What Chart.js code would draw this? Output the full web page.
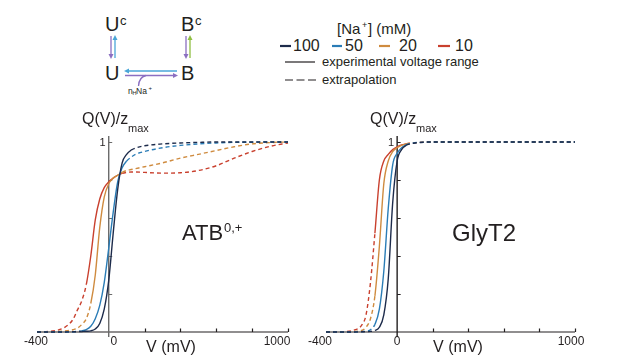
<!DOCTYPE html>
<html>
<head>
<meta charset="utf-8">
<script src="https://cdn.jsdelivr.net/npm/chart.js@4/dist/chart.umd.min.js"></script>
<style>
  body { margin: 0; background: #fff; }
  #page { position: relative; width: 632px; height: 358px; overflow: hidden; font-family: "Liberation Sans", Arial, sans-serif; color: #231f20; }
  #page canvas { position: absolute; }
  .t { position: absolute; white-space: nowrap; }
  svg { position: absolute; left: 0; top: 0; }
</style>
</head>
<body>
<div id="page">
  <svg width="632" height="110" id="deco"></svg>
  <canvas id="atb-chart" width="300" height="258" style="left:0;top:100px"></canvas>
  <canvas id="glyt2-chart" width="332" height="258" style="left:300px;top:100px"></canvas>
</div>
<script>
// ------------------------------ Data ------------------------------ //

// membrane voltage (mV), shared by every curve
const voltage = [-400, -350, -300, -250, -200, -175, -150, -125, -100, -75, -50, -25, 0, 25, 50, 75, 100, 125, 150, 200, 300, 400, 500, 600, 700, 800, 900, 1000];

// Na+ concentrations (mM)
const sodium = [100, 50, 20, 10];

// ATB0,+  Q(V)/zmax
const atb100 = [0, 0, 0, 0, 0.001, 0.002, 0.003, 0.004, 0.006, 0.016, 0.045, 0.12, 0.27, 0.52, 0.75, 0.89, 0.935, 0.957, 0.968, 0.98, 0.99, 0.995, 0.998, 1, 1, 1, 1, 1];
const atb50 = [0, 0, 0, 0, 0.001, 0.003, 0.006, 0.013, 0.03, 0.07, 0.14, 0.26, 0.44, 0.63, 0.79, 0.865, 0.9, 0.92, 0.935, 0.95, 0.97, 0.982, 0.99, 0.995, 0.998, 0.999, 1, 1];
const atb20 = [0, 0, 0.002, 0.005, 0.012, 0.02, 0.04, 0.07, 0.15, 0.3, 0.55, 0.71, 0.78, 0.81, 0.825, 0.84, 0.85, 0.855, 0.86, 0.87, 0.89, 0.915, 0.935, 0.955, 0.975, 0.99, 0.997, 1];
const atb10 = [0, 0.002, 0.007, 0.022, 0.065, 0.115, 0.165, 0.25, 0.4, 0.59, 0.7, 0.76, 0.79, 0.81, 0.825, 0.835, 0.84, 0.842, 0.842, 0.84, 0.836, 0.838, 0.85, 0.875, 0.915, 0.95, 0.977, 0.995];

// GlyT2  Q(V)/zmax
const gly100 = [0, 0, 0, 0, 0.001, 0.002, 0.003, 0.008, 0.025, 0.09, 0.28, 0.68, 0.9, 0.96, 0.982, 0.99, 0.995, 0.997, 0.999, 1, 1, 1, 1, 1, 1, 1, 1, 1];
const gly50 = [0, 0, 0, 0, 0.002, 0.004, 0.012, 0.04, 0.12, 0.32, 0.65, 0.88, 0.94, 0.97, 0.985, 0.992, 0.996, 0.998, 0.999, 1, 1, 1, 1, 1, 1, 1, 1, 1];
const gly20 = [0, 0, 0, 0.002, 0.008, 0.025, 0.07, 0.19, 0.45, 0.78, 0.9, 0.95, 0.97, 0.982, 0.99, 0.994, 0.996, 0.998, 0.999, 1, 1, 1, 1, 1, 1, 1, 1, 1];
const gly10 = [0, 0, 0.002, 0.008, 0.035, 0.09, 0.26, 0.52, 0.8, 0.9, 0.935, 0.96, 0.975, 0.985, 0.99, 0.994, 0.996, 0.998, 0.999, 1, 1, 1, 1, 1, 1, 1, 1, 1];

// experimental voltage range (solid), outside is extrapolation (dashed)
const atbLow = [-150, -150, -100, -125];
const atbHigh = [125, 100, 75, 75];
const glyLow = [-125, -125, -125, -125];
const glyHigh = [50, 50, 50, 50];

// axis ticks
const xTickMarks = [200, 400, 600, 800, 1000];
const xTickLabels = [-400, 0, 1000];
const yTickMarks = [0.2, 0.4, 0.6, 0.8, 1];
const yTickLabels = [1];

const colors = ['#1d2b4b', '#2a7cb6', '#cf8b3f', '#c9402e'];
const FONT = '"Liberation Sans", Arial, sans-serif';

// ------------------------------ Text helper ------------------------------ //

const page = document.getElementById('page');

// place html so that its baseline sits at y = base
const addText = (html, x, base, size, align) => {
    const d = document.createElement('div');
    d.className = 't';
    d.innerHTML = html;
    d.style.fontSize = size + 'px';
    d.style.lineHeight = size + 'px';
    d.style.top = (base - 0.8465 * size) + 'px';
    if (align === 'center') {
        d.style.left = (x - 200) + 'px';
        d.style.width = '400px';
        d.style.textAlign = 'center';
    } else {
        d.style.left = x + 'px';
    }
    page.appendChild(d);
};

// ------------------------------ Axes plugin ------------------------------ //

const axesPlugin = {
    id: 'panelAxes',
    beforeDatasetsDraw(chart, args, opts) {
        const { ctx, scales: { x, y } } = chart;
        const x0 = x.getPixelForValue(0);
        const yBottom = y.getPixelForValue(0);
        ctx.save();
        // x axis
        ctx.strokeStyle = '#231f20';
        ctx.lineWidth = 1.2;
        ctx.beginPath();
        ctx.moveTo(x.getPixelForValue(-400), yBottom);
        ctx.lineTo(x.getPixelForValue(1000), yBottom);
        xTickMarks.forEach(v => {
            const px = Math.round(x.getPixelForValue(v)) + 0.5;
            ctx.moveTo(px, yBottom);
            ctx.lineTo(px, yBottom - 3.5);
        });
        ctx.stroke();
        // y axis through V = 0
        ctx.strokeStyle = opts.yColor;
        ctx.lineWidth = 1.4;
        ctx.beginPath();
        ctx.moveTo(x0, yBottom + 5);
        ctx.lineTo(x0, y.getPixelForValue(1) - 6);
        ctx.stroke();
        ctx.lineWidth = 1;
        ctx.beginPath();
        yTickMarks.forEach(v => {
            const py = Math.round(y.getPixelForValue(v)) + 0.5;
            ctx.moveTo(x0, py);
            ctx.lineTo(x0 + 3.5, py);
        });
        ctx.stroke();
        // tick labels (small nudges as in the original figure)
        ctx.fillStyle = '#231f20';
        ctx.font = '12px ' + FONT;
        ctx.textAlign = 'center';
        ctx.textBaseline = 'alphabetic';
        xTickLabels.forEach((v, i) => {
            ctx.fillText(String(v), x.getPixelForValue(v) + opts.labelShift[i], yBottom + 13);
        });
        ctx.font = '11px ' + FONT;
        ctx.textAlign = 'right';
        yTickLabels.forEach(v => {
            ctx.fillText(String(v), x0 - 3, y.getPixelForValue(v) + 4);
        });
        ctx.restore();
    }
};

// ------------------------------ Charts ------------------------------ //

const buildDatasets = (series, low, high) => series.map((values, i) => ({
    label: sodium[i] + ' mM',
    data: voltage.map((v, j) => ({ x: v, y: values[j] })),
    borderColor: colors[i],
    borderWidth: 1.4,
    pointRadius: 0,
    fill: false,
    cubicInterpolationMode: 'monotone',
    clip: 4,
    segment: {
        borderDash: ctx => (ctx.p0.parsed.x >= low[i] && ctx.p1.parsed.x <= high[i]) ? undefined : [4, 3]
    }
}));

const makeChart = (canvasId, series, low, high, padding, yColor, labelShift) => new Chart(document.getElementById(canvasId), {
    type: 'line',
    data: { datasets: buildDatasets(series, low, high) },
    options: {
        responsive: false,
        animation: false,
        events: [],
        layout: { padding: padding },
        scales: {
            x: { type: 'linear', min: -400, max: 1000, display: false },
            y: { type: 'linear', min: 0, max: 1, display: false }
        },
        plugins: {
            legend: { display: false },
            tooltip: { enabled: false },
            panelAxes: { yColor: yColor, labelShift: labelShift }
        }
    },
    plugins: [axesPlugin]
});

const atbChart = makeChart('atb-chart', [atb100, atb50, atb20, atb10], atbLow, atbHigh,
    { left: 37, right: 12, top: 42, bottom: 26 }, '#6b6b6b', [-1, 5, -11]);
const glyChart = makeChart('glyt2-chart', [gly100, gly50, gly20, gly10], glyLow, glyHigh,
    { left: 26, right: 57, top: 42, bottom: 26 }, '#231f20', [-6, 0, -4]);

// ------------------------------ Labels ------------------------------ //

// axis titles
addText('Q(V)/z', 82, 125, 16);
addText('max', 128, 132, 11);
addText('Q(V)/z', 370, 125, 16);
addText('max', 416, 132, 11);
addText('V (mV)', 171, 353, 16, 'center');
addText('V (mV)', 458, 353, 16, 'center');

// panel names
addText('ATB', 182, 241, 22);
addText('0,+', 224, 232, 13);
addText('GlyT2', 452, 241, 24);

// kinetic scheme
addText('U', 105, 31, 20);
addText('c', 120, 25, 13);
addText('B', 181, 31, 20);
addText('c', 195, 25, 13);
addText('U', 105, 80, 20);
addText('B', 181, 80, 20);
addText('n', 128, 94, 8.5);
addText('H', 132.5, 96, 5.5);
addText('Na', 136, 94, 8.5);
addText('+', 148.5, 90, 6);

// legend
addText('[Na', 337, 34, 15);
addText('+', 362, 29, 9);
addText('] (mM)', 368, 34, 15);
addText('100', 293, 52, 16);
addText('50', 345, 52, 16);
addText('20', 399, 52, 16);
addText('10', 455, 52, 16);
addText('experimental voltage range', 322, 66, 13);
addText('extrapolation', 322, 84, 13);

// arrows and legend swatches
const purple = '#8b6fc1';
const lightBlue = '#4aa6d8';
const green = '#8fbf42';
document.getElementById('deco').innerHTML = `
  <g stroke-width="1.3" fill="none">
    <line x1="111" y1="36" x2="111" y2="55" stroke="${purple}"/>
    <line x1="115" y1="58" x2="115" y2="39" stroke="${lightBlue}"/>
    <line x1="186" y1="36" x2="186" y2="55" stroke="${purple}"/>
    <line x1="190" y1="58" x2="190" y2="39" stroke="${green}"/>
    <line x1="177" y1="71" x2="128" y2="71" stroke="${lightBlue}"/>
    <line x1="125" y1="75.5" x2="174" y2="75.5" stroke="${purple}"/>
    <path d="M146 75.5 Q139 77 138.5 86" stroke="${purple}"/>
  </g>
  <polygon points="108.5,54 113.5,54 111,59" fill="${purple}"/>
  <polygon points="112.5,40 117.5,40 115,35" fill="${lightBlue}"/>
  <polygon points="183.5,54 188.5,54 186,59" fill="${purple}"/>
  <polygon points="187.5,40 192.5,40 190,35" fill="${green}"/>
  <polygon points="129,68.5 129,73.5 124,71" fill="${lightBlue}"/>
  <polygon points="173,73 173,78 178,75.5" fill="${purple}"/>
  <g stroke-width="2.2">
    <line x1="280" y1="46" x2="291" y2="46" stroke="${colors[0]}"/>
    <line x1="332" y1="46" x2="342" y2="46" stroke="${colors[1]}"/>
    <line x1="379" y1="46" x2="390" y2="46" stroke="${colors[2]}"/>
    <line x1="438" y1="46" x2="450" y2="46" stroke="${colors[3]}"/>
  </g>
  <line x1="285" y1="62" x2="315" y2="62" stroke="#231f20" stroke-width="1.2"/>
  <line x1="285" y1="80" x2="316" y2="80" stroke="#231f20" stroke-width="1.2" stroke-dasharray="8 3.5"/>
`;
</script>
</body>
</html>
